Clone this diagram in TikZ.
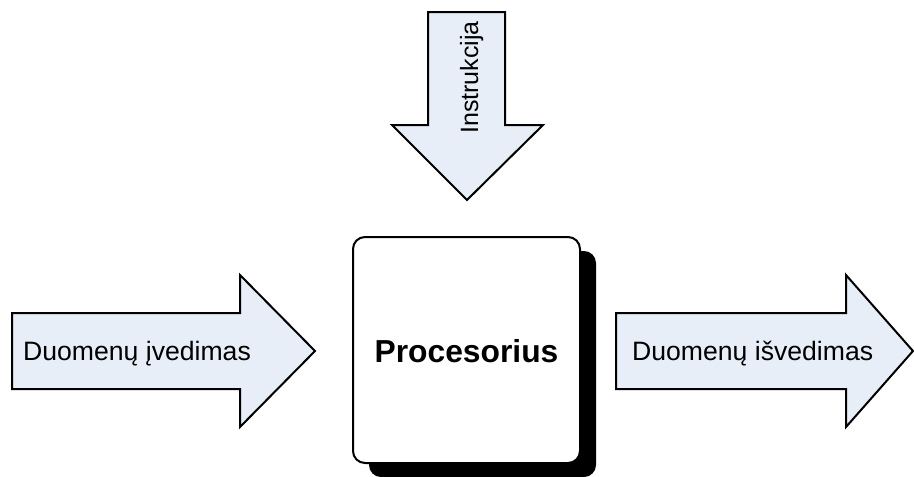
\documentclass[tikz,border=0pt]{standalone}
\usepackage{fontspec}
\setmainfont{Liberation Sans}
\definecolor{arrowfill}{RGB}{232,238,248}
\begin{document}
\begin{tikzpicture}[x=1pt,y=-1pt,
  blockarrow/.style={draw=black,line width=2pt,fill=arrowfill,line join=miter},
  label/.style={inner sep=0pt,font=\fontsize{26.6}{30}\selectfont},
]
\useasboundingbox (0,0) rectangle (914,477);

% input arrow
\draw[blockarrow] (12,313) -- (240,313) -- (240,275) -- (315,351)
  -- (240,427) -- (240,389) -- (12,389) -- cycle;
% output arrow
\draw[blockarrow] (616,313) -- (846,313) -- (846,275) -- (913,351)
  -- (846,427) -- (846,389) -- (616,389) -- cycle;
% instruction arrow
\draw[blockarrow] (428,12) -- (505,12) -- (505,125) -- (543,125)
  -- (467,200) -- (392,125) -- (428,125) -- cycle;

% processor block with drop shadow
\fill[black,rounded corners=12pt] (369,251) rectangle (596,477);
\draw[line width=2pt,fill=white,rounded corners=12pt] (353,237) rectangle (580,463);

\node[label,anchor=base west] (in) at (23,360) {Duomenų įvedimas};
\node[label,anchor=base west] (out) at (632,360) {Duomenų išvedimas};
\node[label,anchor=base,rotate=90,font=\fontsize{25}{30}\selectfont] (instr) at (478,77.5) {Instrukcija};
\node[inner sep=0pt,anchor=base,font=\fontsize{31.8}{36}\selectfont\bfseries] (cpu) at (466.5,362) {Procesorius};
\end{tikzpicture}
\end{document}
